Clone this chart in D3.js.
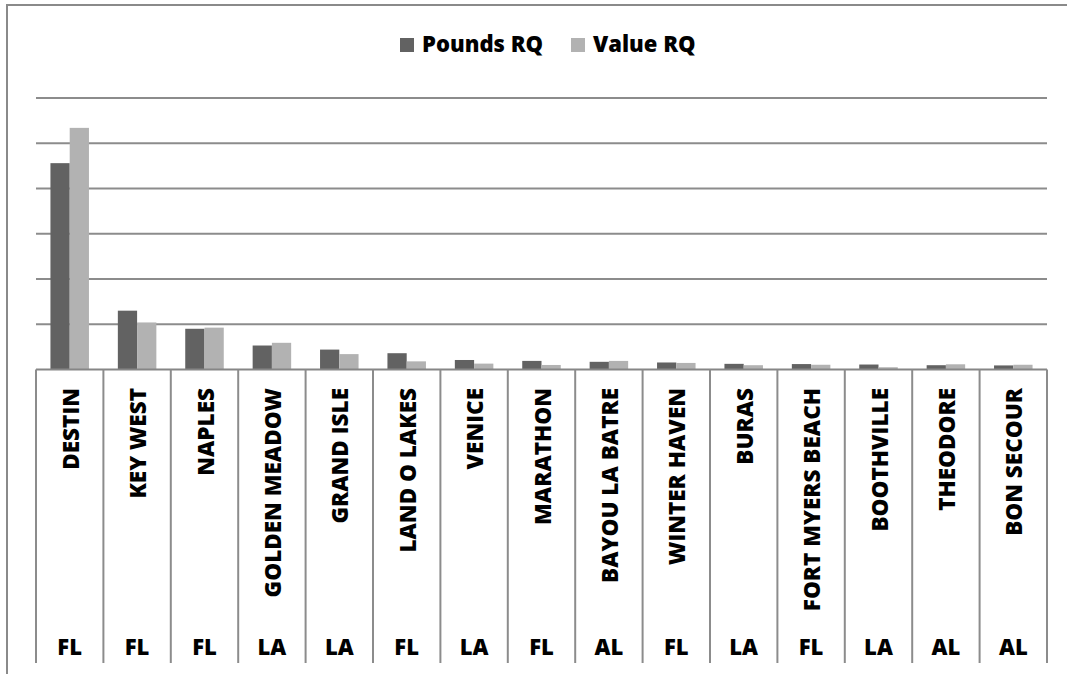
<!DOCTYPE html>
<html>
<head>
<meta charset="utf-8">
<script src="https://cdn.jsdelivr.net/npm/d3@7"></script>
<style>
  html, body { margin: 0; padding: 0; background: #fff; overflow: hidden; }
  svg { display: block; }
  svg text { font-family: "Open Sans", Lato, sans-serif; font-weight: 800; fill: #000; }
</style>
</head>
<body>
<div id="chart"></div>
<script>
// cities with their state, in the order shown
let cities = ["DESTIN", "KEY WEST", "NAPLES", "GOLDEN MEADOW", "GRAND ISLE", "LAND O LAKES",
  "VENICE", "MARATHON", "BAYOU LA BATRE", "WINTER HAVEN", "BURAS", "FORT MYERS BEACH",
  "BOOTHVILLE", "THEODORE", "BON SECOUR"];
let states = ["FL", "FL", "FL", "LA", "LA", "FL", "LA", "FL", "AL", "FL", "LA", "FL", "LA", "AL", "AL"];

let seriesNames = ["Pounds RQ", "Value RQ"];
// values in gridline units (axis labels are not shown in the source)
let poundsRQ = [4.56, 1.30, 0.90, 0.53, 0.44, 0.36, 0.21, 0.19, 0.17, 0.155, 0.125, 0.12, 0.11, 0.095, 0.09];
let valueRQ  = [5.34, 1.04, 0.925, 0.59, 0.34, 0.18, 0.13, 0.10, 0.19, 0.145, 0.095, 0.105, 0.05, 0.115, 0.105];
let yTicks = [0, 1, 2, 3, 4, 5, 6];

let colors = {"Pounds RQ": "#626262", "Value RQ": "#b2b2b2"};

let width = 1067, height = 674;
let margin = {top: 98, left: 36, right: 20, bottom: 11};
let baseY = 369.5;

let data = cities.map((c, i) => ({city: c, state: states[i], "Pounds RQ": poundsRQ[i], "Value RQ": valueRQ[i]}));

let svg = d3.select("#chart").append("svg")
    .attr("width", width)
    .attr("height", height);

// outer chart frame: only left and top edges are inside the picture
svg.append("path")
    .attr("d", "M7," + height + "V5H" + width)
    .attr("fill", "none")
    .attr("stroke", "#8a8a8a")
    .attr("stroke-width", 2);

let x = d3.scaleBand().domain(cities).range([margin.left, width - margin.right]).padding(0);
let x1 = d3.scaleBand().domain(seriesNames).range([0, x.bandwidth()]).paddingInner(0).paddingOuter(0.75);
let y = d3.scaleLinear().domain([0, 6]).range([baseY, margin.top]);

// gridlines
svg.append("g")
  .selectAll("line")
  .data(yTicks.slice(1))
  .enter().append("line")
    .attr("x1", margin.left)
    .attr("x2", width - margin.right)
    .attr("y1", d => y(d))
    .attr("y2", d => y(d))
    .attr("stroke", "#8c8c8c")
    .attr("stroke-width", 2);

// bars
let groups = svg.append("g")
  .selectAll("g")
  .data(data)
  .enter().append("g")
    .attr("transform", d => "translate(" + x(d.city) + ",0)");

groups.selectAll("rect")
  .data(d => seriesNames.map(k => ({key: k, value: d[k]})))
  .enter().append("rect")
    .attr("x", d => x1(d.key))
    .attr("width", x1.bandwidth())
    .attr("y", d => y(d.value))
    .attr("height", d => baseY - y(d.value))
    .attr("fill", d => colors[d.key]);

// category axis: baseline and full-height dividers
let axisBottomY = 663;
svg.append("line")
    .attr("x1", margin.left).attr("x2", width - margin.right)
    .attr("y1", baseY).attr("y2", baseY)
    .attr("stroke", "#868686").attr("stroke-width", 2);

let bounds = cities.map(c => x(c)).concat([x.range()[1]]);
svg.append("g")
  .selectAll("line")
  .data(bounds)
  .enter().append("line")
    .attr("x1", d => d).attr("x2", d => d)
    .attr("y1", baseY).attr("y2", axisBottomY)
    .attr("stroke", "#8c8c8c").attr("stroke-width", 2);

// city names, rotated
svg.append("g")
  .selectAll("text")
  .data(data)
  .enter().append("text")
    .attr("transform", d => "translate(" + (x(d.city) + x.bandwidth() / 2 + 1) + ",388) rotate(-90)")
    .attr("text-anchor", "end")
    .attr("dy", "0.36em")
    .style("font-size", "22.5px")
    .text(d => d.city);

// state labels
svg.append("g")
  .selectAll("text")
  .data(data)
  .enter().append("text")
    .attr("x", d => x(d.city) + x.bandwidth() / 2)
    .attr("y", 655)
    .attr("text-anchor", "middle")
    .style("font-size", "22px")
    .text(d => d.state);

// legend
let legendX = [400, 571];
let legend = svg.append("g")
  .selectAll("g")
  .data(seriesNames)
  .enter().append("g")
    .attr("transform", (d, i) => "translate(" + legendX[i] + ",38)");

legend.append("rect")
    .attr("width", 14).attr("height", 14)
    .attr("fill", d => colors[d]);

legend.append("text")
    .attr("x", 22)
    .attr("y", 14)
    .style("font-size", "22px")
    .text(d => d);
</script>
</body>
</html>
